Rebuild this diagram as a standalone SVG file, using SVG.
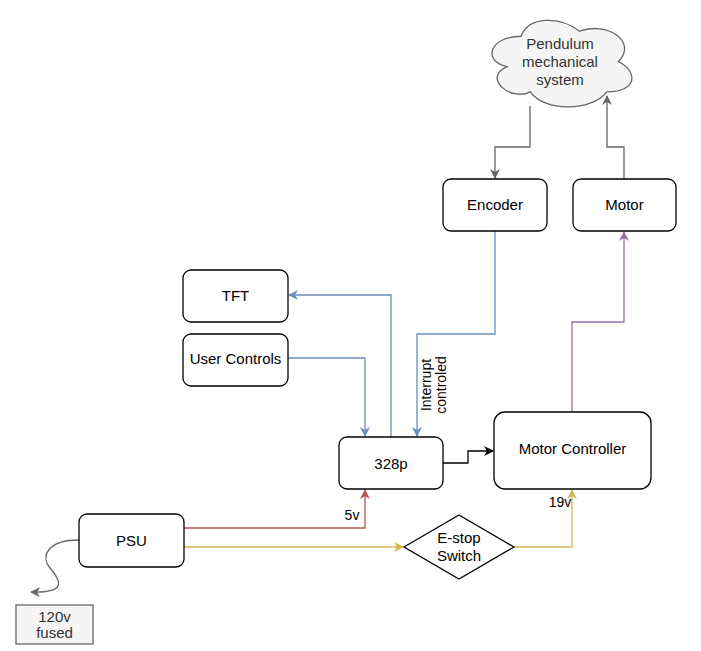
<svg xmlns="http://www.w3.org/2000/svg" width="701" height="651" viewBox="0 0 701 651">
<style>
.box{fill:#ffffff;stroke:#000000;stroke-width:1.3}
.lbl{font-family:"Liberation Sans",Arial,sans-serif;font-size:15px;fill:#000000;text-anchor:middle;dominant-baseline:central}
.elbl{font-family:"Liberation Sans",Arial,sans-serif;font-size:14px;fill:#000000;text-anchor:middle;dominant-baseline:central}
.e{fill:none;stroke-width:1.3}
</style>
<defs>
<marker id="aGray" viewBox="0 0 10 10" refX="9" refY="5" markerWidth="10" markerHeight="10" markerUnits="userSpaceOnUse" orient="auto"><path d="M0,0 L10,5 L0,10 L3,5 Z" fill="#666666"/></marker>
<marker id="aBlue" viewBox="0 0 10 10" refX="9" refY="5" markerWidth="10" markerHeight="10" markerUnits="userSpaceOnUse" orient="auto"><path d="M0,0 L10,5 L0,10 L3,5 Z" fill="#6c8ebf"/></marker>
<marker id="aBlack" viewBox="0 0 10 10" refX="9" refY="5" markerWidth="10" markerHeight="10" markerUnits="userSpaceOnUse" orient="auto"><path d="M0,0 L10,5 L0,10 L3,5 Z" fill="#000000"/></marker>
<marker id="aRed" viewBox="0 0 10 10" refX="9" refY="5" markerWidth="10" markerHeight="10" markerUnits="userSpaceOnUse" orient="auto"><path d="M0,0 L10,5 L0,10 L3,5 Z" fill="#b85450"/></marker>
<marker id="aYellow" viewBox="0 0 10 10" refX="9" refY="5" markerWidth="10" markerHeight="10" markerUnits="userSpaceOnUse" orient="auto"><path d="M0,0 L10,5 L0,10 L3,5 Z" fill="#d6b656"/></marker>
<marker id="aPurple" viewBox="0 0 10 10" refX="9" refY="5" markerWidth="10" markerHeight="10" markerUnits="userSpaceOnUse" orient="auto"><path d="M0,0 L10,5 L0,10 L3,5 Z" fill="#9673a6"/></marker>
</defs>
<rect width="701" height="651" fill="#ffffff"/>

<g id="connectors">
<path class="e" stroke="#666666" d="M530,106 L530,147 L495,147 L495,178" marker-end="url(#aGray)"/>
<path class="e" stroke="#666666" d="M624,179 L624,147 L607,147 L607,96" marker-end="url(#aGray)"/>
<path class="e" stroke="#6c8ebf" d="M391,437 L391,295 L289,295" marker-end="url(#aBlue)"/>
<path class="e" stroke="#6c8ebf" d="M288,358 L365,358 L365,436" marker-end="url(#aBlue)"/>
<path class="e" stroke="#6c8ebf" d="M495,231 L495,334 L417,334 L417,436" marker-end="url(#aBlue)"/>
<path class="e" stroke="#000000" d="M443,463 L468,463 L468,451 L493,451" marker-end="url(#aBlack)"/>
<path class="e" stroke="#9673a6" d="M572,412 L572,322 L624,322 L624,232" marker-end="url(#aPurple)"/>
<path class="e" stroke="#b85450" d="M184,528 L365,528 L365,490" marker-end="url(#aRed)"/>
<path class="e" stroke="#d6b656" d="M184,547 L403,547" marker-end="url(#aYellow)"/>
<path class="e" stroke="#d6b656" d="M514,547 L572,547 L572,490" marker-end="url(#aYellow)"/>
<path class="e" stroke="#666666" d="M79,540 C48,540 40,556 50,568 C62,582 66,593 31,592" marker-end="url(#aGray)"/>
<text class="elbl" x="352" y="515">5v</text>
<text class="elbl" x="560" y="502">19v</text>
<text class="elbl" transform="translate(433,385) rotate(-90)"><tspan x="0" y="-7">Interrupt</tspan><tspan x="0" y="8">controled</tspan></text>
</g>

<g id="cloud">
<path d="M521,36.25 C489.2,36.25 482,61.5 507,66.55 C482,77.7 510.1,101.9 530.4,91.8 C544.4,112 591.2,112 606.8,91.8 C638,91.8 638,71.6 618.5,61.5 C638,41.3 606.8,21.1 579.5,31.2 C560,16.05 528.8,16.05 521,36.25 Z" fill="#f5f5f5" stroke="#666666" stroke-width="1.3"/>
<text class="lbl" fill="#333333" style="fill:#333333" x="560" y="43">Pendulum</text>
<text class="lbl" style="fill:#333333" x="560" y="61">mechanical</text>
<text class="lbl" style="fill:#333333" x="560" y="79">system</text>
</g>

<g id="encoder">
<rect class="box" x="443" y="179" width="104" height="52" rx="8"/>
<text class="lbl" x="495" y="204">Encoder</text>
</g>

<g id="motor">
<rect class="box" x="573" y="179" width="103" height="52" rx="8"/>
<text class="lbl" x="624.5" y="204">Motor</text>
</g>

<g id="tft">
<rect class="box" x="183" y="270" width="105" height="52" rx="8"/>
<text class="lbl" x="235.5" y="295">TFT</text>
</g>

<g id="user-controls">
<rect class="box" x="183" y="334" width="105" height="52" rx="8"/>
<text class="lbl" x="235.5" y="358">User Controls</text>
</g>

<g id="mcu">
<rect class="box" x="339" y="437" width="104" height="52" rx="8"/>
<text class="lbl" x="391" y="463">328p</text>
</g>

<g id="motor-controller">
<rect class="box" x="494" y="412" width="157" height="77" rx="11"/>
<text class="lbl" x="572.5" y="448">Motor Controller</text>
</g>

<g id="psu">
<rect class="box" x="79" y="514" width="105" height="53" rx="8"/>
<text class="lbl" x="131.5" y="540">PSU</text>
</g>

<g id="estop">
<path d="M404,547 L459,515 L514,547 L459,579 Z" fill="#ffffff" stroke="#000000" stroke-width="1.3"/>
<text class="lbl" x="459" y="537">E-stop</text>
<text class="lbl" x="459" y="555">Switch</text>
</g>

<g id="mains">
<rect x="16" y="605" width="77" height="39" fill="#f5f5f5" stroke="#666666" stroke-width="1.3"/>
<text class="lbl" style="fill:#333333" x="54.5" y="616">120v</text>
<text class="lbl" style="fill:#333333" x="54.5" y="632">fused</text>
</g>
</svg>
